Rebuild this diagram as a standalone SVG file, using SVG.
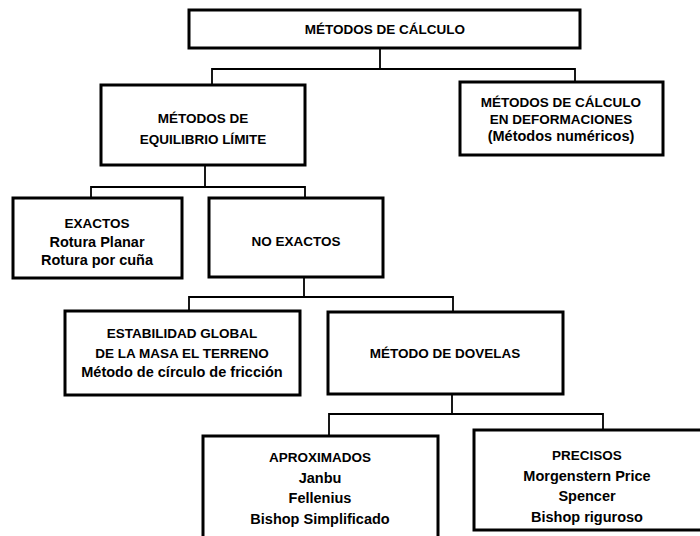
<svg xmlns="http://www.w3.org/2000/svg" width="700" height="536" viewBox="0 0 700 536">
<style>
.box{fill:#fff;stroke:#000;stroke-width:3}
.con{fill:none;stroke:#000;stroke-width:1.8}
text{font-family:"Liberation Sans",Arial,sans-serif;font-weight:bold;font-size:13.5px;text-anchor:middle;fill:#000}
.lc{font-size:14.5px}
</style>
<rect width="700" height="536" fill="#fff"/>
<g id="connectors">
<polyline class="con" points="380,48 380,69 212,69 212,85"/>
<polyline class="con" points="380,69 575,69 575,82"/>
<polyline class="con" points="205,165 205,187 91,187 91,198"/>
<polyline class="con" points="205,187 305,187 305,198"/>
<polyline class="con" points="304,277 304,297 189,297 189,311"/>
<polyline class="con" points="304,297 453,297 453,312"/>
<polyline class="con" points="452,394 452,414 329,414 329,435"/>
<polyline class="con" points="452,414 603,414 603,430"/>
</g>
<g id="n-calculo"><rect class="box" x="189" y="10" width="391" height="38"/><text x="385" y="34">MÉTODOS DE CÁLCULO</text></g>
<g id="n-equilibrio"><rect class="box" x="101" y="85" width="204" height="80"/><text x="203" y="123">MÉTODOS DE</text><text x="203" y="144">EQUILIBRIO LÍMITE</text></g>
<g id="n-deformaciones"><rect class="box" x="460" y="82" width="203" height="73"/><text x="561" y="107">MÉTODOS DE CÁLCULO</text><text x="561" y="124">EN DEFORMACIONES</text><text class="lc" x="561" y="141">(Métodos numéricos)</text></g>
<g id="n-exactos"><rect class="box" x="13" y="198" width="169" height="80"/><text x="97" y="228">EXACTOS</text><text class="lc" x="97" y="247">Rotura Planar</text><text class="lc" x="97" y="265">Rotura por cuña</text></g>
<g id="n-noexactos"><rect class="box" x="209" y="198" width="174" height="79"/><text x="296" y="246">NO EXACTOS</text></g>
<g id="n-estabilidad"><rect class="box" x="65" y="311" width="235" height="84"/><text x="182" y="338">ESTABILIDAD GLOBAL</text><text x="182" y="358">DE LA MASA EL TERRENO</text><text class="lc" x="182" y="377">Método de círculo de fricción</text></g>
<g id="n-dovelas"><rect class="box" x="328" y="312" width="235" height="82"/><text x="445" y="358">MÉTODO DE DOVELAS</text></g>
<g id="n-aproximados"><rect class="box" x="203" y="436" width="235" height="104"/><text x="320" y="462">APROXIMADOS</text><text class="lc" x="320" y="483">Janbu</text><text class="lc" x="320" y="503">Fellenius</text><text class="lc" x="320" y="524">Bishop Simplificado</text></g>
<g id="n-precisos"><rect class="box" x="474" y="430" width="230" height="100"/><text x="587" y="460">PRECISOS</text><text class="lc" x="587" y="481">Morgenstern Price</text><text class="lc" x="587" y="501">Spencer</text><text class="lc" x="587" y="522">Bishop riguroso</text></g>
</svg>
